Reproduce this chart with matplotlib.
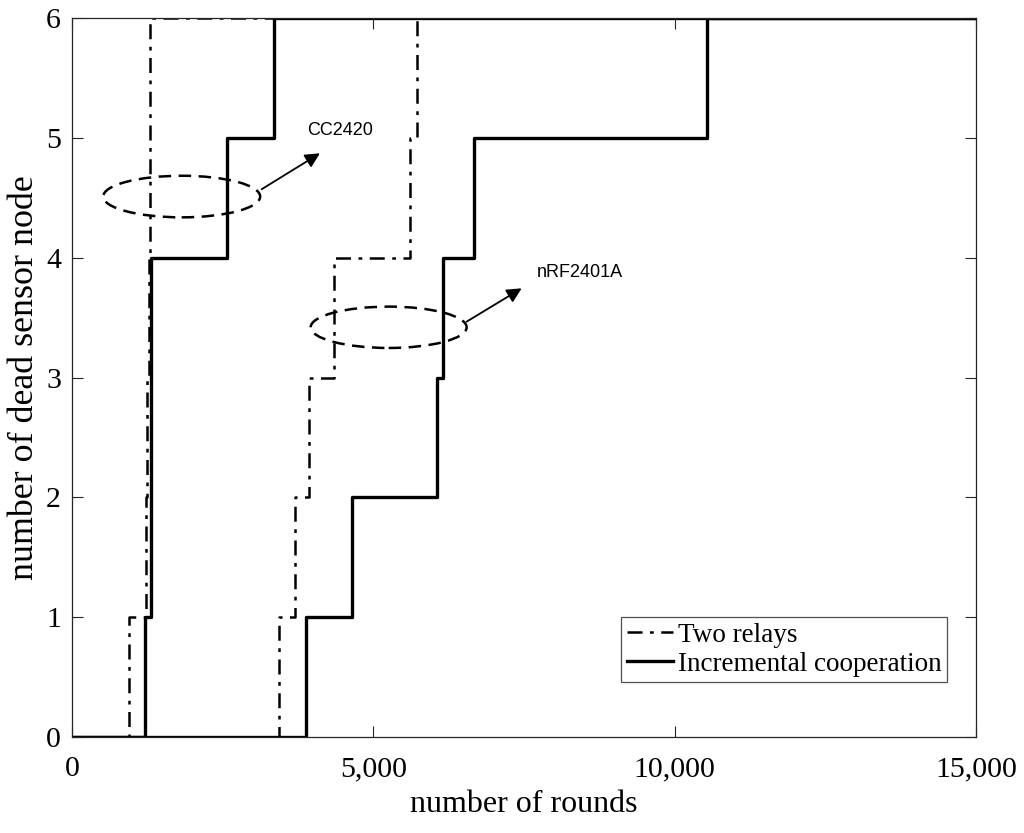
import matplotlib
matplotlib.use("Agg")
import matplotlib.pyplot as plt
from matplotlib.patches import Ellipse
from matplotlib.ticker import FuncFormatter

# ---- data ----
cc_two_x = [0, 950, 1230, 1250, 1280, 1290, 1300, 15000]
cc_two_y = [0, 1, 2, 3, 4, 5, 6, 6]
cc_inc_x = [0, 1210, 1306, 2577, 3356, 15000]
cc_inc_y = [0, 1, 4, 5, 6, 6]
nrf_two_x = [0, 3439, 3705, 3927, 4352, 5608, 5729, 15000]
nrf_two_y = [0, 1, 2, 3, 4, 5, 6, 6]
nrf_inc_x = [0, 3877, 4640, 6050, 6150, 6669, 10530, 15000]
nrf_inc_y = [0, 1, 2, 3, 4, 5, 6, 6]

x_ticks = [0, 5000, 10000, 15000]
y_ticks = [0, 1, 2, 3, 4, 5, 6]
legend_labels = ["Two relays", "Incremental cooperation"]
xlabel = "number of rounds"
ylabel = "number of dead sensor node"
ann_labels = ["CC2420", "nRF2401A"]

serif = ["Liberation Serif", "DejaVu Serif"]
sans = ["Liberation Sans", "DejaVu Sans"]

fig = plt.figure(figsize=(10.24, 8.33), dpi=100)
ax = fig.add_axes([72 / 1024, (833 - 737) / 833, 904 / 1024, 719 / 833])

dashdot = (0, (6, 3, 1.5, 3))
ax.step(cc_two_x, cc_two_y, where="post", color="black", lw=1.8, linestyle=dashdot,
        label=legend_labels[0])
ax.step(nrf_two_x, nrf_two_y, where="post", color="black", lw=1.8, linestyle=dashdot)
ax.step(cc_inc_x, cc_inc_y, where="post", color="black", lw=2.4, linestyle="-",
        label=legend_labels[1])
ax.step(nrf_inc_x, nrf_inc_y, where="post", color="black", lw=2.4, linestyle="-")

ax.set_xlim(0, 15000)
ax.set_ylim(0, 6)
ax.set_xticks(x_ticks)
ax.set_yticks(y_ticks)
ax.xaxis.set_major_formatter(FuncFormatter(lambda v, p: f"{int(v):,}"))
ax.tick_params(direction="in", length=8, width=0.8, top=True, right=True,
               labelsize=21.5, colors="#262626", labelcolor="black")
ax.tick_params(axis="x", pad=14)
ax.tick_params(axis="y", pad=8)
for lab in ax.get_xticklabels() + ax.get_yticklabels():
    lab.set_family(serif)
for s in ax.spines.values():
    s.set_linewidth(0.9)
    s.set_color("#262626")

ax.set_xlabel(xlabel, fontsize=23, family=serif, labelpad=5.5)
ax.set_ylabel(ylabel, fontsize=25.8, family=serif, labelpad=3.5)

# ellipses
ax.add_patch(Ellipse((1820, 4.51), 2605, 0.347, fill=False, edgecolor="black",
                     lw=1.8, linestyle=(0, (5, 3))))
ax.add_patch(Ellipse((5254, 3.419), 2588, 0.345, fill=False, edgecolor="black",
                     lw=1.8, linestyle=(0, (5, 3))))

# arrows
ax.annotate("", xy=(4114, 4.871), xytext=(3147, 4.571),
            arrowprops=dict(arrowstyle="-|>", color="black", lw=1.3,
                            mutation_scale=22, shrinkA=0, shrinkB=0))
ax.annotate("", xy=(7461, 3.744), xytext=(6548, 3.466),
            arrowprops=dict(arrowstyle="-|>", color="black", lw=1.3,
                            mutation_scale=22, shrinkA=0, shrinkB=0))

ax.text(3897, 5.06, ann_labels[0], fontsize=13, family=sans, va="center", ha="left")
ax.text(7710, 3.878, ann_labels[1], fontsize=13, family=sans, va="center", ha="left")

leg = ax.legend(loc="lower right", bbox_to_anchor=(0.968, 0.0765),
                prop={"family": serif, "size": 19.5}, frameon=True, fancybox=False,
                handlelength=1.7, handletextpad=0.2, borderpad=0.2,
                labelspacing=0.15, borderaxespad=0)
leg.get_frame().set_edgecolor("#262626")
leg.get_frame().set_linewidth(0.9)

fig.savefig("out.png", dpi=100)
